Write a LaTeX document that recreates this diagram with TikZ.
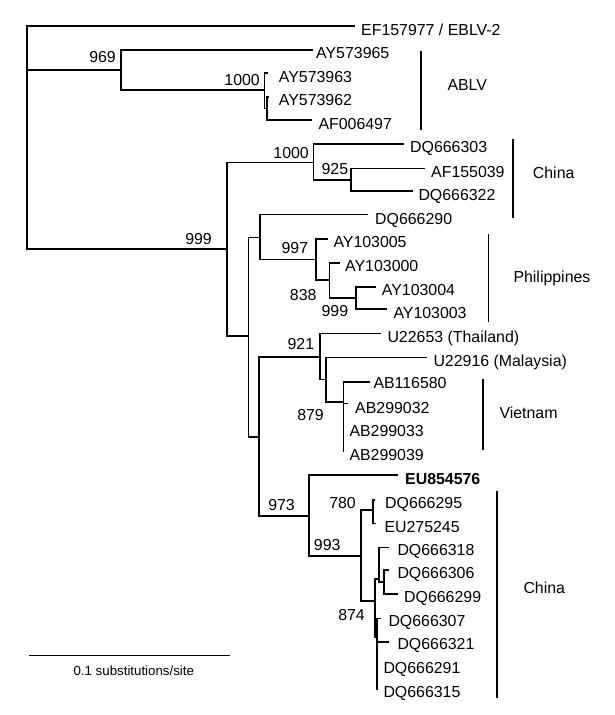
\documentclass[tikz,border=0pt]{standalone}
\usepackage{fontspec}
\setmainfont{Liberation Sans}
\begin{document}
\begin{tikzpicture}[x=1pt,y=-1pt,
  br/.style={line width=1.6pt},
  grp/.style={line width=1.6pt},
  lbl/.style={inner sep=0pt, text height=11pt, text depth=0pt, font=\fontsize{15.9}{18}\selectfont},
  tip/.style={lbl, anchor=west},
  boot/.style={lbl, anchor=east},
  glab/.style={lbl, anchor=west}]
\useasboundingbox (0,0) rectangle (614,715);

% internal nodes
\coordinate (R) at (26.7,137.5);
\coordinate (A) at (120.7,70);
\coordinate (A2) at (264.5,90);
\coordinate (A3) at (266.7,108.3);
\coordinate (B) at (226.7,249);
\coordinate (C) at (313.3,162.3);
\coordinate (C2) at (351,180);
\coordinate (D) at (248.3,336);
\coordinate (E) at (260,237.3);
\coordinate (E2) at (315.7,259.3);
\coordinate (E3) at (329.3,280);
\coordinate (E4) at (355.7,297.7);
\coordinate (F) at (259,436.7);
\coordinate (G) at (320,356.7);
\coordinate (G2) at (325.7,379.3);
\coordinate (V) at (343.3,401.7);
\coordinate (H) at (309,516);
\coordinate (I) at (360.7,556);
\coordinate (J) at (372.7,510);
\coordinate (K) at (375,600.7);
\coordinate (L) at (379,579);
\coordinate (L2) at (384,582);
\coordinate (M) at (376.7,637);

% tip ends
\coordinate (t1) at (355,26);
\coordinate (t2) at (312.7,50);
\coordinate (t3) at (267.5,72.7);
\coordinate (t4) at (269,96.7);
\coordinate (t5) at (311.7,120);
\coordinate (t6) at (404,144);
\coordinate (t7) at (425,168.3);
\coordinate (t8) at (413.3,191);
\coordinate (t9) at (368.3,214.3);
\coordinate (t10) at (328.3,239);
\coordinate (t11) at (340,262.7);
\coordinate (t12) at (376,286.7);
\coordinate (t13) at (387.3,309);
\coordinate (t14) at (380.7,333.3);
\coordinate (t15) at (426.7,357.3);
\coordinate (t16) at (370,381.7);
\coordinate (t17) at (348.3,403.3);
\coordinate (t18) at (343.3,427);
\coordinate (t19) at (343.3,451.7);
\coordinate (t20) at (398.3,475);
\coordinate (t21) at (375,500);
\coordinate (t22) at (376,523.3);
\coordinate (t23) at (389,547.3);
\coordinate (t24) at (389.3,570);
\coordinate (t25) at (398.3,594);
\coordinate (t26) at (380.7,618.3);
\coordinate (t27) at (389.3,641.7);
\coordinate (t28) at (376.7,666.7);
\coordinate (t29) at (376.7,690);

% branches
\draw[br] (R) |- (t1);
\draw[br] (R) |- (A);
\draw[br] (R) |- (B);
\draw[br] (A) |- (t2);
\draw[br] (A) |- (A2);
\draw[br] (A2) |- (t3);
\draw[br] (A2) |- (A3);
\draw[br] (A3) |- (t4);
\draw[br] (A3) |- (t5);
\draw[br] (B) |- (C);
\draw[br] (B) |- (D);
\draw[br] (C) |- (t6);
\draw[br] (C) |- (C2);
\draw[br] (C2) |- (t7);
\draw[br] (C2) |- (t8);
\draw[br] (D) |- (E);
\draw[br] (D) |- (F);
\draw[br] (E) |- (t9);
\draw[br] (E) |- (E2);
\draw[br] (E2) |- (t10);
\draw[br] (E2) |- (E3);
\draw[br] (E3) |- (t11);
\draw[br] (E3) |- (E4);
\draw[br] (E4) |- (t12);
\draw[br] (E4) |- (t13);
\draw[br] (F) |- (G);
\draw[br] (F) |- (H);
\draw[br] (G) |- (t14);
\draw[br] (G) |- (G2);
\draw[br] (G2) |- (t15);
\draw[br] (G2) |- (V);
\draw[br] (V) |- (t16);
\draw[br] (V) |- (t17);
\draw[br] (V) |- (t18);
\draw[br] (V) |- (t19);
\draw[br] (H) |- (t20);
\draw[br] (H) |- (I);
\draw[br] (I) |- (J);
\draw[br] (I) |- (K);
\draw[br] (J) |- (t21);
\draw[br] (J) |- (t22);
\draw[br] (K) |- (L);
\draw[br] (K) |- (M);
\draw[br] (L) |- (t23);
\draw[br] (L) |- (L2);
\draw[br] (L2) |- (t24);
\draw[br] (L2) |- (t25);
\draw[br] (M) |- (t26);
\draw[br] (M) |- (t27);
\draw[br] (M) |- (t28);
\draw[br] (M) |- (t29);

% tip labels
\node[tip] (l1) at (361,30) {EF157977 / EBLV-2};
\node[tip] (l2) at (316,52.7) {AY573965};
\node[tip] (l3) at (278.7,77.3) {AY573963};
\node[tip] (l4) at (278.7,100) {AY573962};
\node[tip] (l5) at (318.3,124) {AF006497};
\node[tip] (l6) at (410,146.7) {DQ666303};
\node[tip] (l7) at (431,171.7) {AF155039};
\node[tip] (l8) at (418.3,195) {DQ666322};
\node[tip] (l9) at (375,219) {DQ666290};
\node[tip] (l10) at (333.3,242.3) {AY103005};
\node[tip] (l11) at (345,266) {AY103000};
\node[tip] (l12) at (381.7,290) {AY103004};
\node[tip] (l13) at (393.3,313.3) {AY103003};
\node[tip] (l14) at (387.3,336.7) {U22653 (Thailand)};
\node[tip] (l15) at (433.3,360.7) {U22916 (Malaysia)};
\node[tip] (l16) at (373.3,383.3) {AB116580};
\node[tip] (l17) at (355,408.3) {AB299032};
\node[tip] (l18) at (349.3,430.7) {AB299033};
\node[tip] (l19) at (349.3,454.5) {AB299039};
\node[tip, font=\fontsize{15.9}{18}\selectfont\bfseries] (l20) at (405,479.3) {EU854576};
\node[tip] (l21) at (385,502.7) {DQ666295};
\node[tip] (l22) at (384.3,526.7) {EU275245};
\node[tip] (l23) at (397.3,550) {DQ666318};
\node[tip] (l24) at (397.3,573.3) {DQ666306};
\node[tip] (l25) at (404,596.7) {DQ666299};
\node[tip] (l26) at (388.3,620.7) {DQ666307};
\node[tip] (l27) at (397.3,644) {DQ666321};
\node[tip] (l28) at (383.3,668.3) {DQ666291};
\node[tip] (l29) at (383.3,691.7) {DQ666315};

% bootstrap values
\node[boot] (b1) at (116,57.3) {969};
\node[boot] (b2) at (260,80) {1000};
\node[boot] (b3) at (212,238.7) {999};
\node[boot] (b4) at (309,152.7) {1000};
\node[boot] (b5) at (348.3,169.3) {925};
\node[boot] (b6) at (308.3,248.3) {997};
\node[boot] (b7) at (316.7,295) {838};
\node[boot] (b8) at (348.3,311) {999};
\node[boot] (b9) at (314.3,344) {921};
\node[boot] (b10) at (324,415) {879};
\node[boot] (b11) at (295,505) {973};
\node[boot] (b12) at (340.7,545) {993};
\node[boot] (b13) at (356,502.7) {780};
\node[boot] (b14) at (365,615) {874};

% group bars
\coordinate (g1a) at (420.7,50.7); \coordinate (g1b) at (420.7,130);
\coordinate (g2a) at (512.7,139.3); \coordinate (g2b) at (512.7,218.3);
\coordinate (g3a) at (488.3,234.3); \coordinate (g3b) at (488.3,321.7);
\coordinate (g4a) at (482.7,379); \coordinate (g4b) at (482.7,450);
\coordinate (g5a) at (496.7,490.7); \coordinate (g5b) at (496.7,698.3);
\draw[grp] (g1a) -- (g1b);
\draw[grp] (g2a) -- (g2b);
\draw[grp] (g3a) -- (g3b);
\draw[grp] (g4a) -- (g4b);
\draw[grp] (g5a) -- (g5b);
\node[glab] (n1) at (447.3,85) {ABLV};
\node[glab] (n2) at (532.7,172.7) {China};
\node[glab] (n3) at (513.3,276.7) {Philippines};
\node[glab] (n4) at (499.3,412.7) {Vietnam};
\node[glab] (n5) at (523.3,588.3) {China};

% scale bar
\coordinate (s1) at (29.3,655.7);
\coordinate (s2) at (230,655.7);
\draw[line width=1.4pt] (s1) -- (s2);
\node[inner sep=0pt, text height=9.5pt, text depth=0pt, font=\fontsize{13.3}{16}\selectfont] (sl) at (133.8,671) {0.1 substitutions/site};
\end{tikzpicture}
\end{document}
